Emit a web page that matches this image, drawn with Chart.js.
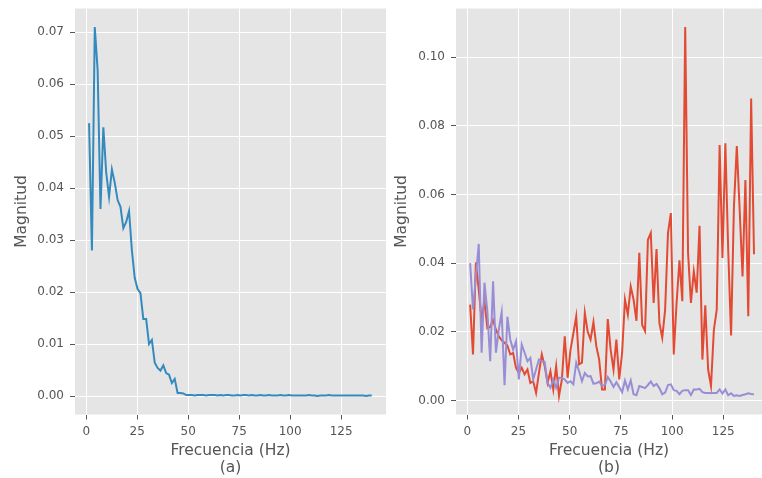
<!DOCTYPE html>
<html>
<head>
<meta charset="utf-8">
<script src="https://cdn.jsdelivr.net/npm/chart.js@4"></script>
<style>
  body { margin: 0; background: #fff; width: 762px; height: 478px; overflow: hidden; position: relative; }
  canvas { position: absolute; top: 0; }
</style>
</head>
<body>
<canvas id="chart-a" width="400" height="478" style="left:0px"></canvas>
<canvas id="chart-b" width="382" height="478" style="left:380px"></canvas>
<script>
// frequency bins (Hz)
const freqs = [
    1.4, 2.8, 4.2, 5.6, 7.0, 8.4, 9.8, 11.2, 12.6, 14.0,
    15.4, 16.8, 18.2, 19.6, 21.0, 22.4, 23.8, 25.2, 26.6, 28.0,
    29.4, 30.8, 32.2, 33.6, 35.0, 36.4, 37.8, 39.2, 40.6, 42.0,
    43.4, 44.8, 46.2, 47.6, 49.0, 50.4, 51.8, 53.2, 54.6, 56.0,
    57.4, 58.8, 60.2, 61.6, 63.0, 64.4, 65.8, 67.2, 68.6, 70.0,
    71.4, 72.8, 74.2, 75.6, 77.0, 78.4, 79.8, 81.2, 82.6, 84.0,
    85.4, 86.8, 88.2, 89.6, 91.0, 92.4, 93.8, 95.2, 96.6, 98.0,
    99.4, 100.8, 102.2, 103.6, 105.0, 106.4, 107.8, 109.2, 110.6, 112.0,
    113.4, 114.8, 116.2, 117.6, 119.0, 120.4, 121.8, 123.2, 124.6, 126.0,
    127.4, 128.8, 130.2, 131.6, 133.0, 134.4, 135.8, 137.2, 138.6, 140.0
];

// panel (a)
const magA = [
    0.0525, 0.0280, 0.0710, 0.0627, 0.0360, 0.0517, 0.0430, 0.0383, 0.0436, 0.0410,
    0.0377, 0.0364, 0.0323, 0.0335, 0.0356, 0.0280, 0.0227, 0.0206, 0.0198, 0.0148,
    0.0148, 0.0100, 0.0108, 0.0064, 0.0054, 0.0049, 0.0059, 0.0044, 0.0041, 0.0025,
    0.0033, 0.0006, 0.0006, 0.0005, 0.0002, 0.0002, 0.0002, 0.0001, 0.0002, 0.0002,
    0.0002, 0.0001, 0.0002, 0.0002, 0.0002, 0.0001, 0.0002, 0.0001, 0.0002, 0.0002,
    0.0001, 0.0001, 0.0002, 0.0001, 0.0002, 0.0002, 0.0001, 0.0002, 0.0001, 0.0001,
    0.0002, 0.0001, 0.0001, 0.0002, 0.0001, 0.0001, 0.0001, 0.0002, 0.0001, 0.0001,
    0.0002, 0.0001, 0.0001, 0.0001, 0.0001, 0.0001, 0.0001, 0.0002, 0.0001, 0.0001,
    0.0000, 0.0001, 0.0001, 0.0001, 0.0002, 0.0001, 0.0001, 0.0001, 0.0001, 0.0001,
    0.0001, 0.0001, 0.0001, 0.0001, 0.0001, 0.0001, 0.0001, 0.0000, 0.0001, 0.0001
];

// panel (b), red series
const magB1 = [
    0.0279, 0.0134, 0.0402, 0.0323, 0.0234, 0.0289, 0.0211, 0.0214, 0.0234, 0.0206,
    0.0187, 0.0175, 0.0168, 0.0160, 0.0134, 0.0138, 0.0095, 0.0080, 0.0095, 0.0076,
    0.0090, 0.0051, 0.0056, 0.0022, 0.0080, 0.0134, 0.0100, 0.0051, 0.0085, 0.0032,
    0.0100, 0.0013, 0.0061, 0.0187, 0.0066, 0.0148, 0.0195, 0.0245, 0.0105, 0.0110,
    0.0255, 0.0200, 0.0177, 0.0228, 0.0158, 0.0119, 0.0032, 0.0032, 0.0237, 0.0148,
    0.0090, 0.0177, 0.0061, 0.0139, 0.0294, 0.0250, 0.0332, 0.0294, 0.0232, 0.0430,
    0.0220, 0.0202, 0.0468, 0.0488, 0.0284, 0.0441, 0.0226, 0.0183, 0.0264, 0.0488,
    0.0546, 0.0134, 0.0284, 0.0408, 0.0289, 0.1088, 0.0430, 0.0284, 0.0376, 0.0314,
    0.0509, 0.0119, 0.0277, 0.0090, 0.0042, 0.0206, 0.0264, 0.0744, 0.0415, 0.0749,
    0.0439, 0.0189, 0.0565, 0.0741, 0.0555, 0.0361, 0.0642, 0.0245, 0.0880, 0.0426
];

// panel (b), purple series
const magB2 = [
    0.0400, 0.0265, 0.0360, 0.0456, 0.0139, 0.0343, 0.0260, 0.0114, 0.0347, 0.0139,
    0.0206, 0.0257, 0.0044, 0.0244, 0.0177, 0.0148, 0.0172, 0.0061, 0.0163, 0.0139,
    0.0114, 0.0124, 0.0061, 0.0090, 0.0119, 0.0114, 0.0112, 0.0051, 0.0037, 0.0061,
    0.0037, 0.0066, 0.0066, 0.0061, 0.0051, 0.0056, 0.0047, 0.0110, 0.0085, 0.0056,
    0.0080, 0.0070, 0.0071, 0.0049, 0.0050, 0.0055, 0.0042, 0.0045, 0.0068, 0.0055,
    0.0039, 0.0053, 0.0039, 0.0024, 0.0058, 0.0032, 0.0058, 0.0018, 0.0015, 0.0042,
    0.0039, 0.0036, 0.0045, 0.0055, 0.0042, 0.0048, 0.0036, 0.0018, 0.0023, 0.0045,
    0.0047, 0.0030, 0.0028, 0.0018, 0.0028, 0.0030, 0.0030, 0.0016, 0.0032, 0.0032,
    0.0034, 0.0024, 0.0022, 0.0022, 0.0022, 0.0022, 0.0022, 0.0032, 0.0020, 0.0032,
    0.0015, 0.0021, 0.0013, 0.0015, 0.0013, 0.0016, 0.0018, 0.0021, 0.0019, 0.0018
];

const xTicks = [0, 25, 50, 75, 100, 125];
const yTicksA = [0, 0.01, 0.02, 0.03, 0.04, 0.05, 0.06, 0.07];
const yTicksB = [0, 0.02, 0.04, 0.06, 0.08, 0.10];

const FONT = 'DejaVu Sans';
const TEXT = '#555555';

// grey panel background, ggplot style
const panelBg = {
    id: 'panelBg',
    beforeDraw(chart) {
        const { ctx, chartArea: a } = chart;
        ctx.save();
        ctx.fillStyle = '#E5E5E5';
        ctx.fillRect(a.left, a.top, a.right - a.left, a.bottom - a.top);
        ctx.restore();
    }
};

function toPoints(ys) {
    return ys.map((y, i) => ({ x: freqs[i], y: y }));
}

function makeChart(id, datasets, cfg) {
    const ctx = document.getElementById(id).getContext('2d');
    return new Chart(ctx, {
        type: 'line',
        data: { datasets: datasets },
        options: {
            responsive: false,
            animation: false,
            layout: { padding: { top: 8.5, right: cfg.padRight, bottom: 0, left: 0 } },
            plugins: { legend: { display: false }, tooltip: { enabled: false } },
            elements: { point: { radius: 0 }, line: { tension: 0, borderWidth: 2 } },
            scales: {
                x: {
                    type: 'linear',
                    min: cfg.xMin,
                    max: cfg.xMax,
                    afterBuildTicks: s => { s.ticks = xTicks.map(v => ({ value: v })); },
                    afterFit: s => { s.height = 63.5; },
                    grid: { color: '#FFFFFF', lineWidth: 1, tickColor: TEXT, tickLength: 5 },
                    border: { display: false },
                    ticks: { color: TEXT, font: { family: FONT, size: 12 }, padding: 5, maxRotation: 0 },
                    title: {
                        display: true,
                        text: ['Frecuencia (Hz)', cfg.tag],
                        color: TEXT,
                        font: { family: FONT, size: 15.5, lineHeight: 1.14 },
                        padding: { top: 0, bottom: 1 }
                    }
                },
                y: {
                    min: cfg.yMin,
                    max: cfg.yMax,
                    afterBuildTicks: s => { s.ticks = cfg.yTicks.map(v => ({ value: v })); },
                    afterFit: s => { s.width = cfg.yWidth; },
                    grid: { color: '#FFFFFF', lineWidth: 1, tickColor: TEXT, tickLength: 5 },
                    border: { display: false },
                    ticks: {
                        color: TEXT,
                        // tiny lineHeight keeps the label half-height from pushing the plot top down
                        font: { family: FONT, size: 12, lineHeight: 0.1 },
                        padding: 6,
                        callback: v => v.toFixed(2)
                    },
                    title: {
                        display: true,
                        text: 'Magnitud',
                        color: TEXT,
                        font: { family: FONT, size: 15.5 },
                        padding: { top: cfg.titlePad, bottom: 0 }
                    }
                }
            }
        },
        plugins: [panelBg]
    });
}

makeChart('chart-a', [
    { data: toPoints(magA), borderColor: '#348ABD' }
], {
    tag: '(a)', xMin: -5.5, xMax: 147, yMin: -0.00355, yMax: 0.07455,
    yTicks: yTicksA, yWidth: 75, padRight: 14, titlePad: 12.4
});

makeChart('chart-b', [
    { data: toPoints(magB1), borderColor: '#E24A33', order: 2 },
    { data: toPoints(magB2), borderColor: '#988ED5', order: 1 }
], {
    tag: '(b)', xMin: -5.5, xMax: 143.9, yMin: -0.0041, yMax: 0.1142,
    yTicks: yTicksB, yWidth: 76, padRight: 0, titlePad: 13
});
</script>
</body>
</html>
